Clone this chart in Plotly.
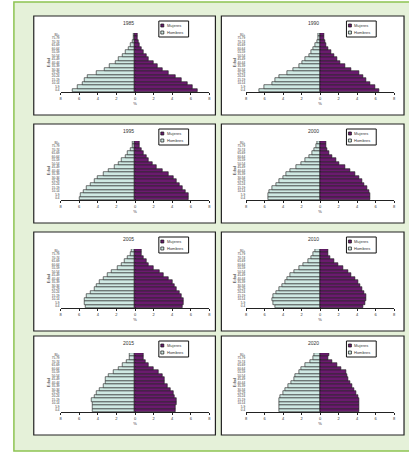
import plotly.graph_objects as go

W, H = 409, 452

edades = ["0-4", "5-9", "10-14", "15-19", "20-24", "25-29", "30-34", "35-39", "40-44",
          "45-49", "50-54", "55-59", "60-64", "65-69", "70-74", "75-79", "80+"]
anios = [1985, 1990, 1995, 2000, 2005, 2010, 2015, 2020]

hombres_1985 = [6.7, 6.2, 5.6, 5.4, 5.1, 4.1, 3.3, 2.7, 2.1, 1.8, 1.3, 1.0, 0.7, 0.5, 0.3, 0.2, 0.2]
mujeres_1985 = [6.7, 6.2, 5.6, 5.0, 4.4, 3.6, 3.0, 2.4, 2.0, 1.5, 1.2, 0.9, 0.7, 0.5, 0.35, 0.25, 0.3]
hombres_1990 = [6.6, 6.0, 5.2, 4.9, 4.4, 3.6, 2.9, 2.3, 1.9, 1.6, 1.2, 1.0, 0.7, 0.5, 0.3, 0.2, 0.2]
mujeres_1990 = [6.4, 6.0, 5.4, 5.0, 4.7, 4.2, 3.4, 2.7, 2.2, 1.8, 1.5, 1.2, 0.9, 0.7, 0.5, 0.4, 0.4]
hombres_1995 = [6.0, 5.9, 5.5, 5.2, 4.8, 4.4, 4.0, 3.4, 2.8, 2.2, 1.8, 1.4, 1.0, 0.8, 0.5, 0.3, 0.3]
mujeres_1995 = [5.8, 5.7, 5.4, 5.1, 4.8, 4.5, 4.1, 3.6, 3.0, 2.3, 1.9, 1.5, 1.2, 0.9, 0.7, 0.5, 0.5]
hombres_2000 = [5.6, 5.6, 5.5, 5.2, 4.8, 4.4, 4.0, 3.7, 3.2, 2.6, 2.0, 1.6, 1.2, 0.9, 0.6, 0.4, 0.3]
mujeres_2000 = [5.4, 5.4, 5.3, 5.1, 4.8, 4.5, 4.2, 3.8, 3.3, 2.7, 2.1, 1.7, 1.3, 1.0, 0.8, 0.6, 0.6]
hombres_2005 = [5.3, 5.4, 5.4, 5.2, 4.8, 4.4, 4.1, 3.8, 3.4, 3.0, 2.5, 1.9, 1.4, 1.1, 0.8, 0.5, 0.4]
mujeres_2005 = [5.1, 5.2, 5.2, 5.0, 4.8, 4.5, 4.3, 4.0, 3.6, 3.1, 2.6, 2.0, 1.5, 1.2, 0.9, 0.7, 0.7]
hombres_2010 = [4.9, 5.1, 5.2, 5.1, 4.8, 4.4, 4.1, 3.8, 3.6, 3.2, 2.8, 2.3, 1.8, 1.3, 1.0, 0.7, 0.5]
mujeres_2010 = [4.7, 4.9, 5.0, 5.0, 4.8, 4.5, 4.3, 4.1, 3.8, 3.4, 3.0, 2.5, 1.9, 1.5, 1.1, 0.9, 0.9]
hombres_2015 = [4.6, 4.6, 4.6, 4.7, 4.4, 4.1, 3.8, 3.4, 3.2, 3.2, 2.8, 2.3, 1.8, 1.3, 0.9, 0.6, 0.6]
mujeres_2015 = [4.4, 4.4, 4.5, 4.5, 4.3, 4.1, 3.8, 3.5, 3.2, 3.2, 3.0, 2.5, 2.0, 1.5, 1.1, 0.9, 0.9]
hombres_2020 = [4.4, 4.4, 4.4, 4.4, 4.3, 4.0, 3.8, 3.5, 3.1, 2.8, 2.7, 2.3, 2.0, 1.6, 1.1, 0.7, 0.6]
mujeres_2020 = [4.2, 4.2, 4.2, 4.2, 4.1, 3.9, 3.7, 3.5, 3.2, 3.0, 2.9, 2.8, 2.3, 1.8, 1.3, 0.9, 1.0]

hombres = [hombres_1985, hombres_1990, hombres_1995, hombres_2000,
           hombres_2005, hombres_2010, hombres_2015, hombres_2020]
mujeres = [mujeres_1985, mujeres_1990, mujeres_1995, mujeres_2000,
           mujeres_2005, mujeres_2010, mujeres_2015, mujeres_2020]

COL_M = '#6a1b6e'   # purple
COL_H = '#cfe9e3'   # pale teal
FONT = 'Liberation Sans, Arial, sans-serif'


def px(x):
    return x / W


def py(y):
    return 1 - y / H


panel_left = [33, 222]
panel_w = [183, 184]
panel_top = [16, 124, 232, 336]
panel_h = 99
plot_x = [(60, 210), (247, 396)]

fig = go.Figure()
shapes = []
annotations = []

# green background
shapes.append(dict(type='rect', xref='paper', yref='paper', x0=px(13), x1=px(412), y0=py(451), y1=py(2),
                   fillcolor='#e5f1d9', line=dict(color='#8dc452', width=1.5), layer='below'))

for i, year in enumerate(anios):
    r, c = divmod(i, 2)
    n = i + 1
    xa = 'x' if n == 1 else f'x{n}'
    ya = 'y' if n == 1 else f'y{n}'
    top = panel_top[r]
    left = panel_left[c]

    # panel
    shapes.append(dict(type='rect', xref='paper', yref='paper', x0=px(left), x1=px(left + panel_w[c]),
                       y0=py(top + panel_h), y1=py(top), fillcolor='white',
                       line=dict(color='#222222', width=1.2), layer='below'))

    fig.add_trace(go.Bar(y=edades, x=[-v for v in hombres[i]], orientation='h', name='Hombres',
                         marker=dict(color=COL_H, line=dict(color='#1a1a1a', width=0.6)),
                         xaxis=xa, yaxis=ya, showlegend=False))
    fig.add_trace(go.Bar(y=edades, x=mujeres[i], orientation='h', name='Mujeres',
                         marker=dict(color=COL_M, line=dict(color='#1a1a1a', width=0.6)),
                         xaxis=xa, yaxis=ya, showlegend=False))

    x0, x1 = plot_x[c]
    xkey = 'xaxis' if n == 1 else f'xaxis{n}'
    ykey = 'yaxis' if n == 1 else f'yaxis{n}'
    fig.layout[xkey] = dict(domain=[px(x0), px(x1)], anchor=ya, range=[-8, 8],
                            tickvals=list(range(-8, 9, 2)),
                            ticktext=[str(abs(v)) for v in range(-8, 9, 2)],
                            tickfont=dict(size=4, color='#333'), ticks='outside', ticklen=2,
                            tickcolor='#222', showline=True, linecolor='#222', linewidth=1,
                            showgrid=False, zeroline=True, zerolinecolor='#111', zerolinewidth=1,
                            title=dict(text='%', font=dict(size=4, color='#333'), standoff=2),
                            fixedrange=True)
    fig.layout[ykey] = dict(domain=[py(top + 76), py(top + 17)], anchor=xa, type='category',
                            range=[-0.5, len(edades) - 0.5], tickmode='linear', tick0=0, dtick=1,
                            tickfont=dict(size=3, color='#333'), showgrid=False, showline=False,
                            ticks='', title=dict(text='Edad', font=dict(size=4, color='#333'), standoff=1),
                            fixedrange=True)

    # title
    annotations.append(dict(xref='paper', yref='paper', x=px((x0 + x1) / 2 - 7), y=py(top + 7),
                            text=str(year), showarrow=False, font=dict(size=5, color='#333'),
                            xanchor='center', yanchor='middle'))

    # legend box
    lx0 = left + 126
    lx1 = lx0 + 30
    ly0 = top + 5
    ly1 = top + 21
    shapes.append(dict(type='rect', xref='paper', yref='paper', x0=px(lx0), x1=px(lx1),
                       y0=py(ly1), y1=py(ly0), fillcolor='white', line=dict(color='#111', width=1)))
    for k, (lab, col) in enumerate([('Mujeres', COL_M), ('Hombres', COL_H)]):
        cy = ly0 + 4.5 + k * 7
        shapes.append(dict(type='rect', xref='paper', yref='paper', x0=px(lx0 + 2), x1=px(lx0 + 5),
                           y0=py(cy + 1.5), y1=py(cy - 1.5), fillcolor=col,
                           line=dict(color='#111', width=0.7)))
        annotations.append(dict(xref='paper', yref='paper', x=px(lx0 + 6), y=py(cy), text=lab,
                                showarrow=False, font=dict(size=4, color='#333'),
                                xanchor='left', yanchor='middle'))

fig.update_layout(width=W, height=H, margin=dict(l=0, r=0, t=0, b=0),
                  paper_bgcolor='white', plot_bgcolor='rgba(0,0,0,0)',
                  barmode='overlay', bargap=0, font=dict(family=FONT),
                  shapes=shapes, annotations=annotations, showlegend=False)

fig.write_html("out.html", config={'displayModeBar': False},
               post_script="document.body.style.margin='0px';")
